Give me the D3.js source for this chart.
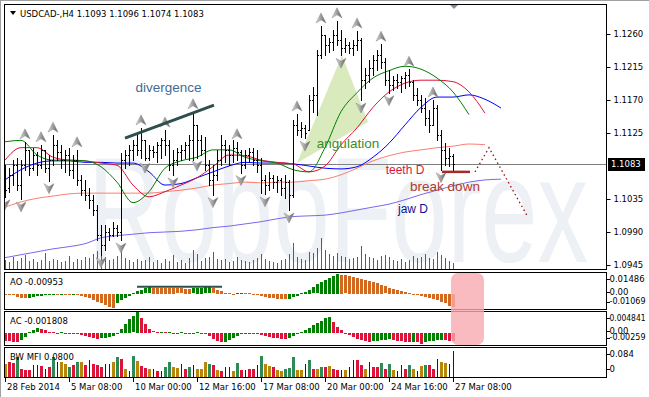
<!DOCTYPE html>
<html>
<head>
<meta charset="utf-8">
<script src="https://cdn.jsdelivr.net/npm/d3@7"></script>
<style>
  body { margin: 0; background: #fff; }
  svg { display: block; font-family: 'DejaVu Sans', sans-serif; }
</style>
</head>
<body>
<svg id="chart" width="649" height="397"></svg>
<script>
// ---- chart data (USDCAD H4) ----
const symbolTitle = 'USDCAD-,H4  1.1093 1.1096 1.1074 1.1083';
const lastPrice = 1.1083;
const priceTicks = [1.1260, 1.1215, 1.1170, 1.1125, 1.1035, 1.0990, 1.0945];
const timeTicks = [0, 16, 32, 48, 64, 80, 96, 112];
const timeLabels = ['28 Feb 2014', '5 Mar 08:00', '10 Mar 00:00', '12 Mar 16:00',
  '17 Mar 08:00', '20 Mar 00:00', '24 Mar 16:00', '27 Mar 08:00'];

const highs = [
  1.1081, 1.1077, 1.1088, 1.1091, 1.1088, 1.1113, 1.1102, 1.1105, 1.1099, 1.1109,
  1.1102, 1.1095, 1.1122, 1.1115, 1.1109, 1.1102, 1.1105, 1.1095, 1.1102, 1.1068,
  1.1061, 1.1050, 1.1041, 1.1027, 1.1000, 1.1000, 1.0996, 1.1004, 1.1000, 1.1098,
  1.1102, 1.1109, 1.1115, 1.1122, 1.1132, 1.1115, 1.1109, 1.1107, 1.1113, 1.1118,
  1.1129, 1.1115, 1.1102, 1.1105, 1.1109, 1.1113, 1.1122, 1.1154, 1.1136, 1.1122,
  1.1120, 1.1088, 1.1081, 1.1102, 1.1122, 1.1115, 1.1109, 1.1115, 1.1113, 1.1102,
  1.1102, 1.1105, 1.1105, 1.1102, 1.1091, 1.1068, 1.1072, 1.1068, 1.1066, 1.1064,
  1.1068, 1.1061, 1.1143, 1.1151, 1.1140, 1.1136, 1.1177, 1.1188, 1.1238, 1.1271,
  1.1259, 1.1255, 1.1265, 1.1278, 1.1265, 1.1255, 1.1249, 1.1252, 1.1264, 1.1255,
  1.1214, 1.1225, 1.1231, 1.1238, 1.1246, 1.1227, 1.1211, 1.1203, 1.1205, 1.1203,
  1.1208, 1.1212, 1.1197, 1.1186, 1.1177, 1.1173, 1.1156, 1.1170, 1.1163, 1.1129,
  1.1111, 1.1105, 1.1096
];
const lows = [
  1.1038, 1.1045, 1.1054, 1.1047, 1.1035, 1.1075, 1.1068, 1.1075, 1.1068, 1.1077,
  1.1072, 1.1060, 1.1081, 1.1088, 1.1077, 1.1072, 1.1068, 1.1064, 1.1054, 1.1041,
  1.1034, 1.1023, 1.1013, 1.0979, 1.0959, 1.0965, 1.0979, 1.0985, 1.0985, 1.0979,
  1.1077, 1.1081, 1.1088, 1.1095, 1.1091, 1.1088, 1.1088, 1.1092, 1.1085, 1.1091,
  1.1095, 1.1075, 1.1068, 1.1081, 1.1088, 1.1091, 1.1088, 1.1088, 1.1091, 1.1095,
  1.1075, 1.1054, 1.1041, 1.1061, 1.1081, 1.1085, 1.1081, 1.1085, 1.1088, 1.1071,
  1.1077, 1.1085, 1.1081, 1.1072, 1.1043, 1.1042, 1.1047, 1.1050, 1.1045, 1.1041,
  1.1036, 1.1020, 1.1038, 1.1122, 1.1120, 1.1118, 1.1129, 1.1154, 1.1150, 1.1227,
  1.1231, 1.1235, 1.1238, 1.1245, 1.1231, 1.1235, 1.1234, 1.1231, 1.1238, 1.1170,
  1.1186, 1.1195, 1.1204, 1.1211, 1.1214, 1.1190, 1.1180, 1.1184, 1.1186, 1.1181,
  1.1186, 1.1189, 1.1170, 1.1163, 1.1154, 1.1136, 1.1126, 1.1136, 1.1115, 1.1075,
  1.1081, 1.1080, 1.1074
];
const opens = [
  1.1072, 1.1050, 1.1068, 1.1081, 1.1054, 1.1081, 1.1102, 1.1077, 1.1095, 1.1081,
  1.1102, 1.1077, 1.1088, 1.1109, 1.1099, 1.1088, 1.1095, 1.1075, 1.1088, 1.1061,
  1.1047, 1.1041, 1.1034, 1.1020, 1.0986, 1.0972, 1.0990, 1.0986, 1.0996, 1.0990,
  1.1088, 1.1095, 1.1102, 1.1109, 1.1102, 1.1115, 1.1091, 1.1102, 1.1099, 1.1109,
  1.1115, 1.1109, 1.1081, 1.1088, 1.1099, 1.1102, 1.1109, 1.1115, 1.1136, 1.1115,
  1.1102, 1.1081, 1.1061, 1.1068, 1.1088, 1.1109, 1.1102, 1.1095, 1.1105, 1.1099,
  1.1081, 1.1095, 1.1099, 1.1088, 1.1081, 1.1061, 1.1054, 1.1064, 1.1058, 1.1061,
  1.1050, 1.1058, 1.1041, 1.1136, 1.1129, 1.1132, 1.1129, 1.1170, 1.1177, 1.1231,
  1.1259, 1.1245, 1.1249, 1.1259, 1.1252, 1.1241, 1.1245, 1.1241, 1.1245, 1.1252,
  1.1197, 1.1204, 1.1214, 1.1225, 1.1231, 1.1222, 1.1197, 1.1190, 1.1197, 1.1195,
  1.1200, 1.1204, 1.1195, 1.1177, 1.1170, 1.1159, 1.1145, 1.1136, 1.1159, 1.1122,
  1.1102, 1.1091, 1.1093
];
const closes = [
  1.1047, 1.1068, 1.1081, 1.1054, 1.1081, 1.1102, 1.1077, 1.1095, 1.1081, 1.1102,
  1.1077, 1.1088, 1.1109, 1.1099, 1.1088, 1.1095, 1.1075, 1.1088, 1.1061, 1.1047,
  1.1041, 1.1034, 1.1020, 1.0986, 1.0972, 1.0990, 1.0986, 1.0996, 1.0990, 1.1088,
  1.1095, 1.1102, 1.1109, 1.1102, 1.1115, 1.1091, 1.1102, 1.1099, 1.1109, 1.1115,
  1.1109, 1.1081, 1.1088, 1.1099, 1.1102, 1.1109, 1.1115, 1.1136, 1.1115, 1.1102,
  1.1081, 1.1061, 1.1068, 1.1088, 1.1109, 1.1102, 1.1095, 1.1105, 1.1099, 1.1081,
  1.1095, 1.1099, 1.1088, 1.1081, 1.1061, 1.1054, 1.1064, 1.1058, 1.1061, 1.1050,
  1.1058, 1.1041, 1.1136, 1.1129, 1.1132, 1.1125, 1.1170, 1.1177, 1.1231, 1.1259,
  1.1245, 1.1249, 1.1259, 1.1252, 1.1241, 1.1245, 1.1241, 1.1245, 1.1252, 1.1197,
  1.1204, 1.1214, 1.1225, 1.1231, 1.1222, 1.1197, 1.1190, 1.1197, 1.1195, 1.1200,
  1.1204, 1.1195, 1.1177, 1.1170, 1.1159, 1.1145, 1.1136, 1.1159, 1.1122, 1.1102,
  1.1091, 1.1093, 1.1083
];
const volumes = [
  1800, 1500, 2400, 1600, 2200, 2800, 1700, 2000, 1500, 1900,
  3200, 1600, 2100, 1800, 1400, 1700, 2600, 1500, 2000, 1800,
  2500, 2200, 2900, 3600, 4000, 2400, 1800, 2100, 2600, 4400,
  2200, 1800, 1500, 2000, 1600, 1900, 2400, 1500, 1800, 1200,
  2000, 1700, 2800, 1500, 1900, 1300, 2300, 3800, 3000, 1600,
  2200, 2500, 3400, 2100, 1800, 2000, 1500, 1700, 2400, 1900,
  1600, 1400, 1800, 2200, 3000, 2000, 1700, 1500, 1300, 1900,
  2100, 3000, 5200, 2400, 2000, 1800, 3500, 3200, 4200, 6200,
  3800, 3000, 2700, 3200, 2600, 2400, 2000, 2200, 2500, 4600,
  3000, 2400, 2200, 1800, 2600, 2800, 2400, 1900, 1700, 2000,
  1500, 1800, 2600, 2200, 2400, 3000, 2300, 2100, 3400, 2800,
  2200, 1600, 1200
];

// moving averages, one value every 4 bars (shifted lines run past the last bar)
const lineStep = 4;
const jaw = [1.1061, 1.1075, 1.1084, 1.1087, 1.1087, 1.1085, 1.1085, 1.1084, 1.1084, 1.1072,
  1.1054, 1.1056, 1.1064, 1.1072, 1.1080, 1.1085, 1.1084, 1.1084, 1.1083, 1.1080,
  1.1077, 1.1076, 1.1079, 1.1092, 1.1111, 1.1136, 1.1160, 1.1174, 1.1174, 1.1177,
  1.1171, 1.1159];
const teeth = [1.1088, 1.1105, 1.1105, 1.1092, 1.1088, 1.1087, 1.1084, 1.1081, 1.1054, 1.1038,
  1.1045, 1.1054, 1.1064, 1.1079, 1.1095, 1.1094, 1.1088, 1.1085, 1.1083, 1.1072,
  1.1080, 1.1109, 1.1132, 1.1160, 1.1181, 1.1193, 1.1197, 1.1197, 1.1195, 1.1181,
  1.1152];
const lips = [1.1113, 1.1115, 1.1095, 1.1088, 1.1088, 1.1087, 1.1079, 1.1058, 1.1030, 1.1045,
  1.1077, 1.1087, 1.1092, 1.1102, 1.1102, 1.1092, 1.1087, 1.1084, 1.1075, 1.1072,
  1.1105, 1.1154, 1.1180, 1.1200, 1.1210, 1.1216, 1.1212, 1.1200, 1.1181, 1.1150];
const teethD = [1.1024, 1.1031, 1.1036, 1.1039, 1.1042, 1.1043, 1.1043, 1.1043, 1.1043, 1.1043,
  1.1045, 1.1047, 1.1050, 1.1054, 1.1056, 1.1058, 1.1057, 1.1058, 1.1058, 1.1060,
  1.1062, 1.1068, 1.1077, 1.1087, 1.1094, 1.1099, 1.1102, 1.1105, 1.1107, 1.1110,
  1.1109];
const jawD = [1.0955, 1.0959, 1.0963, 1.0967, 1.0970, 1.0974, 1.0982, 1.0985, 1.0987, 1.0989,
  1.0990, 1.0991, 1.0993, 1.0996, 1.0998, 1.1001, 1.1004, 1.1008, 1.1011, 1.1012,
  1.1013, 1.1016, 1.1020, 1.1024, 1.1028, 1.1034, 1.1041, 1.1047, 1.1053, 1.1058,
  1.1061, 1.1062];

const upFractals = [5, 9, 12, 18, 34, 40, 47, 58, 73, 79, 83, 88, 94, 101, 107];
const downFractals = [0, 4, 11, 24, 29, 35, 42, 48, 52, 59, 65, 71, 75, 84, 89, 96, 109];

const ao = [
  -0.00024, -0.00040, -0.00063, -0.00198, -0.00277, -0.00316, -0.00277, -0.00237, -0.00174, -0.00119,
  -0.00079, -0.00047, -0.00040, -0.00055, -0.00040, -0.00047, -0.00063, -0.00047, -0.00055, -0.00119,
  -0.00198, -0.00316, -0.00435, -0.00593, -0.00711, -0.00830, -0.00990, -0.01069, -0.00711, -0.00474,
  -0.00316, -0.00158, 0.00063, 0.00190, 0.00316, 0.00411, 0.00474, 0.00462, 0.00455, 0.00442,
  0.00436, 0.00430, 0.00417, 0.00411, 0.00398, 0.00392, 0.00379, 0.00405, 0.00430, 0.00455,
  0.00474, 0.00480, 0.00411, 0.00316, 0.00222, 0.00079, 0.00040, 0.00016, 0.00032, 0.00047,
  0.00040, 0.00024, 0.00016, -0.00040, -0.00119, -0.00198, -0.00277, -0.00332, -0.00379, -0.00395,
  -0.00411, -0.00356, -0.00237, -0.00119, 0.00040, 0.00158, 0.00316, 0.00474, 0.00711, 0.00869,
  0.01027, 0.01185, 0.01343, 0.01486, 0.01438, 0.01383, 0.01327, 0.01264, 0.01185, 0.01106,
  0.01027, 0.00948, 0.00869, 0.00790, 0.00672, 0.00553, 0.00435, 0.00356, 0.00277, 0.00198,
  0.00119, 0.00063, 0.00016, -0.00040, -0.00119, -0.00198, -0.00277, -0.00356, -0.00474, -0.00593,
  -0.00711, -0.00869, -0.00953
];
const ac = [
  -0.00180, -0.00191, -0.00203, -0.00214, -0.00158, -0.00090, 0.00023, 0.00068, 0.00101, 0.00090,
  0.00068, 0.00023, 0.00011, 0.00007, 0.00014, 0.00005, 0.00000, -0.00007, -0.00023, -0.00045,
  -0.00079, -0.00101, -0.00124, -0.00135, -0.00124, -0.00113, -0.00101, -0.00079, -0.00023, 0.00090,
  0.00203, 0.00315, 0.00383, 0.004841, 0.00338, 0.00203, 0.00090, 0.00034, 0.00018, 0.00027,
  0.00011, 0.00018, -0.00007, 0.00007, 0.00014, 0.00005, -0.00007, 0.00007, 0.00014, -0.00011,
  -0.00034, -0.00079, -0.00135, -0.00180, -0.00214, -0.00203, -0.00158, -0.00113, -0.00068, -0.00023,
  -0.00011, 0.00007, -0.00011, -0.00034, -0.00056, -0.00079, -0.00101, -0.00113, -0.00124, -0.00135,
  -0.00146, -0.00113, -0.00068, -0.00023, 0.00023, 0.00068, 0.00113, 0.00180, 0.00225, 0.00270,
  0.00338, 0.00360, 0.00248, 0.00135, 0.00068, 0.00000, -0.00045, -0.00090, -0.00135, -0.00169,
  -0.00191, -0.00203, -0.00191, -0.00180, -0.00169, -0.00158, -0.00146, -0.00158, -0.00180, -0.00191,
  -0.00203, -0.00214, -0.00203, -0.00214, -0.00259, -0.00203, -0.00191, -0.00180, -0.00169, -0.00158,
  -0.00169, -0.00180, -0.001808
];
const mfi = [
  0.0400, 0.0462, 0.0431, 0.0616, 0.0246, 0.0216, 0.0216, 0.0370, 0.0370, 0.0339,
  0.0246, 0.0308, 0.0616, 0.0462, 0.0462, 0.0400, 0.0308, 0.0370, 0.0462, 0.0462,
  0.0370, 0.0524, 0.0400, 0.0370, 0.0308, 0.0400, 0.0400, 0.0462, 0.0616, 0.0554,
  0.0246, 0.0185, 0.0647, 0.0493, 0.0339, 0.0277, 0.0246, 0.0246, 0.0185, 0.0185,
  0.0308, 0.0462, 0.0308, 0.0277, 0.0400, 0.0246, 0.0308, 0.0370, 0.0246, 0.0246,
  0.0462, 0.0400, 0.0370, 0.0216, 0.0185, 0.0308, 0.0308, 0.0185, 0.0431, 0.0216,
  0.0216, 0.0246, 0.0246, 0.0370, 0.0647, 0.0400, 0.0339, 0.0308, 0.0216, 0.0185,
  0.0246, 0.0277, 0.0616, 0.0216, 0.0216, 0.0400, 0.0524, 0.0246, 0.0246, 0.0308,
  0.0308, 0.0339, 0.0246, 0.0216, 0.0216, 0.0216, 0.0308, 0.0524, 0.0524, 0.0370,
  0.0246, 0.0462, 0.0308, 0.0308, 0.0431, 0.0246, 0.0400, 0.0216, 0.0185, 0.0370,
  0.0246, 0.0370, 0.0246, 0.0185, 0.0339, 0.0370, 0.0370, 0.0246, 0.0554, 0.0462,
  0.0431, 0.0400, 0.0800
];
// MFI zone per bar: g = green, b = fade, u = fake, r = squat
const mfiZone = [
  'b', 'r', 'r', 'g', 'r', 'r', 'r', 'u', 'u', 'r',
  'u', 'r', 'g', 'u', 'b', 'b', 'g', 'r', 'g', 'b',
  'r', 'u', 'r', 'r', 'r', 'u', 'u', 'b', 'g', 'r',
  'b', 'u', 'g', 'b', 'r', 'r', 'b', 'u', 'r', 'u',
  'g', 'g', 'b', 'b', 'u', 'r', 'g', 'u', 'b', 'b',
  'b', 'g', 'r', 'b', 'r', 'u', 'u', 'b', 'g', 'r',
  'u', 'r', 'r', 'u', 'g', 'b', 'b', 'r', 'b', 'b',
  'g', 'g', 'g', 'b', 'b', 'u', 'g', 'r', 'b', 'g',
  'r', 'b', 'r', 'r', 'u', 'b', 'u', 'u', 'r', 'r',
  'b', 'u', 'r', 'r', 'g', 'r', 'g', 'b', 'u', 'u',
  'r', 'g', 'b', 'u', 'b', 'g', 'r', 'r', 'u', 'b',
  'b', 'u', 'u'
];

// hand-drawn annotations, as [bar index, value]
const divergenceLine = [[30, 1.1118], [52.25, 1.1163]];
const angulationZone = [[84.25, 1.1231], [90.75, 1.1140], [73, 1.1084]];
const breakLine = [[109.25, 1.1072], [116.25, 1.1072]];
const forecastPath = [[117.5, 1.1072], [121, 1.1105], [130.75, 1.1010]];
const aoTrendLine = [[33, 0.0052], [54.25, 0.0052]];
const noteTexts = ['divergence', 'angulation', 'teeth D', 'break down', 'jaw D'];
const noteAnchors = [[40.9, 1.1181], [85.75, 1.1105], [100, 1.1069], [110, 1.1046], [102, 1.1016]];


/**
 * TerminalChart - draws the price pane and the three indicator panes
 */
class TerminalChart {
    constructor(svg) {
        this.svg = svg;
        this.left = 4.5;
        this.right = 606.5;
        this.panes = {
            main: { top: 4.5, bottom: 269.5 },
            ao: { top: 272.5, bottom: 309.5 },
            ac: { top: 311.5, bottom: 345.5 },
            mfi: { top: 347.5, bottom: 377.5 }
        };
        this.x = d3.scaleLinear().domain([0, 112]).range([5, 453]);
        this.y = d3.scaleLinear().domain([1.0945, 1.1260]).range([265, 34]);
        this.yVol = d3.scaleLinear().domain([0, 10000]).range([269, 219]);
        this.yAO = d3.scaleLinear().domain([-0.01069, 0.01486]).range([308, 274]);
        this.yAC = d3.scaleLinear().domain([-0.00259, 0.004841]).range([344, 312]);
        this.yMFI = d3.scaleLinear().domain([0, 0.084]).range([377, 350]);
    }

    /**
     * Clip paths and the gradient used by fractal arrows
     */
    init() {
        const defs = this.svg.append('defs');
        Object.entries(this.panes).forEach(([key, p]) => {
            defs.append('clipPath').attr('id', 'clip-' + key)
                .append('rect')
                .attr('x', this.left + 0.5)
                .attr('y', p.top + 0.5)
                .attr('width', this.right - this.left - 1)
                .attr('height', p.bottom - p.top - 1);
        });

        const grad = defs.append('linearGradient')
            .attr('id', 'arrowFill')
            .attr('x1', 0).attr('x2', 1).attr('y1', 0).attr('y2', 0);
        grad.append('stop').attr('offset', '0%').attr('stop-color', '#e2e2e2');
        grad.append('stop').attr('offset', '50%').attr('stop-color', '#9c9c9c');
        grad.append('stop').attr('offset', '100%').attr('stop-color', '#5c5c5c');

        this.svg.append('rect').attr('width', 649).attr('height', 397).attr('fill', '#fff');
        // window edges
        this.svg.append('path').attr('d', 'M0,0.5H649M0.5,0V397')
            .attr('stroke', '#a0a0a0').attr('stroke-width', 1);

        // watermark (sits inside the price pane, no descenders)
        this.svg.append('text')
            .attr('x', 88).attr('y', 262)
            .attr('textLength', 500).attr('lengthAdjust', 'spacingAndGlyphs')
            .style('font-family', "'Liberation Sans', Arial, sans-serif")
            .style('font-size', '150px')
            .attr('fill', '#edf0f4')
            .text('RoboForex');
    }

    /**
     * Candles (bars), alligator lines, volumes, fractals
     */
    drawMain() {
        const { x, y } = this;
        const g = this.svg.append('g').attr('clip-path', 'url(#clip-main)');

        // tick volumes
        g.append('g').selectAll('line').data(volumes).join('line')
            .attr('x1', (d, i) => Math.round(x(i)) + 0.5)
            .attr('x2', (d, i) => Math.round(x(i)) + 0.5)
            .attr('y1', this.yVol(0))
            .attr('y2', d => Math.round(this.yVol(d)))
            .attr('stroke', '#24822a')
            .attr('shape-rendering', 'crispEdges');

        // angulation zone
        g.append('path')
            .attr('d', d3.line().x(d => x(d[0])).y(d => y(d[1]))(angulationZone) + 'Z')
            .attr('fill', '#d9eabd');

        const lineGen = d3.line()
            .x((d, k) => x(k * lineStep))
            .y(d => y(d))
            .curve(d3.curveMonotoneX);
        const maLines = [
            { data: jawD, color: '#7b68ee' },
            { data: teethD, color: '#fa8072' },
            { data: jaw, color: '#0000ff' },
            { data: teeth, color: '#e0143c' },
            { data: lips, color: '#008000' }
        ];

        // current price line
        g.append('line')
            .attr('x1', this.left).attr('x2', this.right)
            .attr('y1', Math.round(y(lastPrice)) + 0.5)
            .attr('y2', Math.round(y(lastPrice)) + 0.5)
            .attr('stroke', '#808080')
            .attr('shape-rendering', 'crispEdges');

        g.append('g').selectAll('path').data(maLines).join('path')
            .attr('d', d => lineGen(d.data))
            .attr('fill', 'none')
            .attr('stroke', d => d.color)
            .attr('stroke-width', 1);

        // OHLC bars
        g.append('g').selectAll('path').data(highs).join('path')
            .attr('d', (h, i) => {
                const n = Math.round(x(i));
                const yo = Math.round(y(opens[i])) + 0.5;
                const yc = Math.round(y(closes[i])) + 0.5;
                return `M${n + 0.5},${Math.round(y(h))}V${Math.round(y(lows[i])) + 1}` +
                    `M${n - 1},${yo}H${n}M${n + 1},${yc}H${n + 2}`;
            })
            .attr('stroke', '#000')
            .attr('fill', 'none')
            .attr('shape-rendering', 'crispEdges');

        // fractals
        g.append('g').selectAll('path').data(upFractals).join('path')
            .attr('transform', i => `translate(${x(i)},${y(highs[i]) - 8})`)
            .attr('d', 'M0,-5L5,5L0,2L-5,5Z')
            .attr('fill', 'url(#arrowFill)')
            .attr('stroke', '#8a8a8a').attr('stroke-width', 0.5);
        g.append('g').selectAll('path').data(downFractals).join('path')
            .attr('transform', i => `translate(${x(i)},${y(lows[i]) + 8})`)
            .attr('d', 'M0,5L5,-5L0,-2L-5,-5Z')
            .attr('fill', 'url(#arrowFill)')
            .attr('stroke', '#8a8a8a').attr('stroke-width', 0.5);

        // annotations
        const pt = d3.line().x(d => x(d[0])).y(d => y(d[1]));
        g.append('path').attr('d', pt(divergenceLine))
            .attr('stroke', '#2f4f4f').attr('stroke-width', 3);
        g.append('path').attr('d', pt(breakLine))
            .attr('stroke', '#a52a2a').attr('stroke-width', 2.5);
        g.append('path').attr('d', pt(forecastPath))
            .attr('fill', 'none')
            .attr('stroke', '#9b1010').attr('stroke-width', 1.3)
            .attr('stroke-dasharray', '1.5,3');

        const noteStyle = {
            'divergence': { size: 13.5, color: '#3f6d95' },
            'angulation': { size: 13.5, color: '#3c8c2c' },
            'teeth D': { size: 12, color: '#dc143c' },
            'break down': { size: 13.5, color: '#b03a2e' },
            'jaw D': { size: 12, color: '#101090' }
        };
        g.append('g').selectAll('text').data(noteTexts).join('text')
            .attr('x', (d, k) => x(noteAnchors[k][0]))
            .attr('y', (d, k) => y(noteAnchors[k][1]))
            .attr('text-anchor', 'middle')
            .style('font-family', "'Liberation Sans', Arial, sans-serif")
            .style('font-size', d => noteStyle[d].size + 'px')
            .attr('fill', d => noteStyle[d].color)
            .text(d => d);

        // chart shift marker
        this.svg.append('path')
            .attr('transform', `translate(${x(112.25)},4)`)
            .attr('d', 'M-5,0L5,0L0,5Z')
            .attr('fill', '#7e8c9a');
    }

    /**
     * Histogram oscillator pane (AO / AC)
     */
    drawOscillator(key, values, scale, upColor, downColor) {
        const { x } = this;
        const g = this.svg.append('g').attr('clip-path', `url(#clip-${key})`);
        const zero = scale(0);
        g.selectAll('rect').data(values).join('rect')
            .attr('x', (d, i) => Math.round(x(i)) - 1)
            .attr('width', 3)
            .attr('y', d => Math.round(Math.min(zero, scale(d))))
            .attr('height', d => Math.max(1, Math.round(Math.abs(scale(d) - zero))))
            .attr('fill', (d, i) => (i > 0 && d > values[i - 1]) ? upColor : downColor)
            .attr('shape-rendering', 'crispEdges');
        return g;
    }

    drawMFI() {
        const { x } = this;
        const zoneColor = { g: '#2e8b57', b: '#b8860b', u: '#0000ff', r: '#dc143c' };
        const g = this.svg.append('g').attr('clip-path', 'url(#clip-mfi)');
        const base = this.yMFI(0);
        g.selectAll('rect').data(mfi).join('rect')
            .attr('x', (d, i) => Math.round(x(i)) - (mfiZone[i] === 'u' ? 0 : 1))
            .attr('width', (d, i) => mfiZone[i] === 'u' ? 1 : 3)
            .attr('y', d => Math.round(this.yMFI(d)))
            .attr('height', d => Math.round(base - this.yMFI(d)))
            .attr('fill', (d, i) => zoneColor[mfiZone[i]])
            .attr('shape-rendering', 'crispEdges');
    }

    /**
     * Pane frames, titles, value scales and the time scale
     */
    drawAxes() {
        const { x, y } = this;
        const font = sel => sel.style('font-family', "'DejaVu Sans', sans-serif")
            .style('font-size', '8.5px').attr('fill', '#000');

        Object.values(this.panes).forEach(p => {
            this.svg.append('rect')
                .attr('x', this.left).attr('y', p.top)
                .attr('width', this.right - this.left)
                .attr('height', p.bottom - p.top)
                .attr('fill', 'none').attr('stroke', '#000')
                .attr('shape-rendering', 'crispEdges');
        });

        // price scale
        const axis = this.svg.append('g')
            .attr('transform', `translate(${this.right},0)`)
            .call(d3.axisRight(y).tickValues(priceTicks).tickSize(4).tickPadding(3)
                .tickFormat(d3.format('.4f')));
        axis.select('.domain').remove();
        axis.selectAll('line').attr('stroke', '#000');
        axis.selectAll('text').call(font);

        // last price tag
        const yl = Math.round(y(lastPrice));
        this.svg.append('rect')
            .attr('x', 608).attr('y', yl - 6).attr('width', 37).attr('height', 13)
            .attr('fill', '#000');
        this.svg.append('text')
            .attr('x', 611).attr('y', yl).attr('dy', '0.35em')
            .call(font).attr('fill', '#fff')
            .text(d3.format('.4f')(lastPrice));

        // indicator scales
        const paneLabels = [
            { pane: 'ao', scale: this.yAO, max: '0.01486', min: '-0.01069', zero: '0.00' },
            { pane: 'ac', scale: this.yAC, max: '0.004841', min: '-0.00259', zero: '0.00' },
            { pane: 'mfi', scale: this.yMFI, max: '0.084', min: null, zero: '0' }
        ];
        paneLabels.forEach(l => {
            const p = this.panes[l.pane];
            const rows = [[l.max, p.top + 6.5]];
            if (l.pane === 'mfi') rows.push([l.zero, p.bottom - 8.5]);
            else rows.push([l.zero, l.scale(0) - 1.5], [l.min, p.bottom - 8]);
            rows.forEach(([t, ty]) => {
                this.svg.append('line')
                    .attr('x1', this.right).attr('x2', this.right + 3)
                    .attr('y1', Math.round(ty) + 0.5).attr('y2', Math.round(ty) + 0.5)
                    .attr('stroke', '#000').attr('shape-rendering', 'crispEdges');
                const txt = this.svg.append('text')
                    .attr('x', this.right + 3).attr('y', ty).attr('dy', '0.35em')
                    .call(font).text(t);
                // keep long labels inside the window
                if (t.length > 7) txt.attr('textLength', 36).attr('lengthAdjust', 'spacingAndGlyphs');
            });
        });

        // pane titles
        const titles = [
            { text: symbolTitle, x: 20, y: 16.5 },
            { text: 'AO ' + ao[ao.length - 1].toFixed(5), x: 10, y: 285 },
            { text: 'AC ' + ac[ac.length - 1].toFixed(6), x: 10, y: 323.5 },
            { text: 'BW MFI ' + mfi[mfi.length - 1].toFixed(4), x: 10, y: 360 }
        ];
        this.svg.append('g').selectAll('text').data(titles).join('text')
            .attr('x', d => d.x).attr('y', d => d.y)
            .call(font)
            .text(d => d.text);
        this.svg.append('path').attr('d', 'M10,11L16,11L13,15Z').attr('fill', '#000');

        // time scale
        const bottom = this.panes.mfi.bottom;
        const tg = this.svg.append('g').selectAll('g').data(timeTicks).join('g')
            .attr('transform', i => `translate(${Math.round(x(i)) + 0.5},0)`);
        tg.append('line')
            .attr('y1', bottom).attr('y2', bottom + 4)
            .attr('stroke', '#000').attr('shape-rendering', 'crispEdges');
        tg.append('text')
            .attr('x', 1.5).attr('y', 390)
            .call(font)
            .text((d, k) => timeLabels[k]);
    }

    render() {
        this.init();
        this.drawMain();
        this.drawOscillator('ao', ao, this.yAO, '#008000', '#d2691e');
        this.drawOscillator('ac', ac, this.yAC, '#008000', '#dc143c');

        // AO trend line
        this.svg.append('path')
            .attr('d', d3.line().x(d => this.x(d[0])).y(d => this.yAO(d[1]))(aoTrendLine))
            .attr('stroke', '#2f4f4f').attr('stroke-width', 2);

        this.drawMFI();
        this.drawAxes();

        // highlight of the current bar area
        this.svg.append('rect')
            .attr('x', this.x(111.5)).attr('width', this.x(119.75) - this.x(111.5))
            .attr('y', this.panes.ao.top + 0.5)
            .attr('height', this.panes.ac.bottom - this.panes.ao.top - 1)
            .attr('rx', 7)
            .attr('fill', '#f7a9b0').attr('fill-opacity', 0.8);
    }
}

new TerminalChart(d3.select('#chart')).render();
</script>
</body>
</html>
